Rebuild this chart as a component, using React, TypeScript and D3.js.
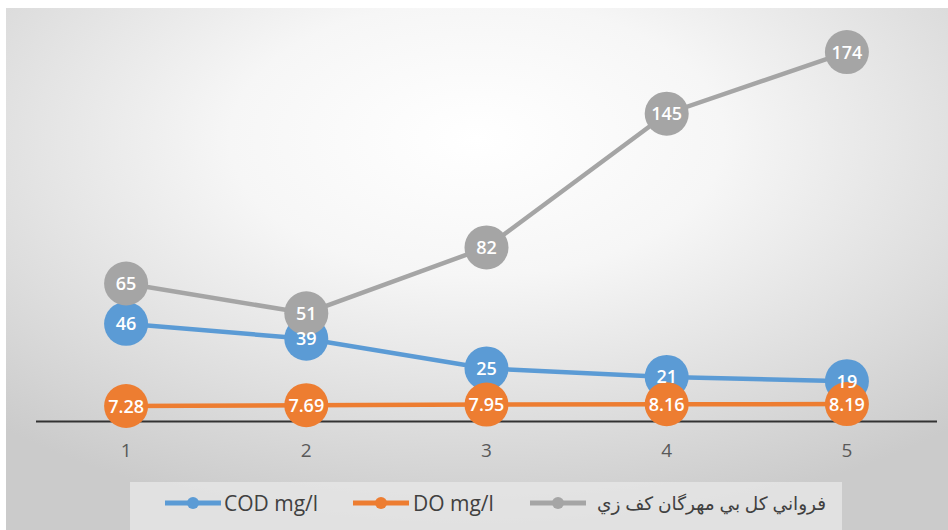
import React from 'react';
import * as d3 from 'd3';

const CATEGORIES = ['1', '2', '3', '4', '5'];
const COD = [46, 39, 25, 21, 19];
const DO = [7.28, 7.69, 7.95, 8.16, 8.19];
const BENTHOS = [65, 51, 82, 145, 174];

const SERIES = [
  { name: 'COD mg/l', values: COD, color: '#5B9BD5' },
  { name: 'DO mg/l', values: DO, color: '#ED7D31' },
  { name: 'فرواني کل بي مهرگان کف زي', values: BENTHOS, color: '#A5A5A5' },
];

const W = 948;
const H = 530;

export default function App() {
  const x = d3.scaleBand<string>().domain(CATEGORIES).range([36, 937]);
  const cx = (c: string) => (x(c) ?? 0) + x.bandwidth() / 2;
  const y = d3.scaleLinear().domain([0, 200]).range([421.5, 421.5 - 200 * 2.123]);

  const line = d3
    .line<number>()
    .x((_, i) => cx(CATEGORIES[i]))
    .y(d => y(d));

  const font = '"Open Sans", "DejaVu Sans", sans-serif';

  // legend layout: line start, text start, font size
  const legend = [
    { lx: 165, tx: 224, fs: 21 },
    { lx: 353, tx: 413, fs: 21 },
    { lx: 530, tx: 597, fs: 18.5 },
  ];
  const legY = 503;

  return (
    <svg
      width={W}
      height={H}
      style={{ position: 'absolute', left: 0, top: 0, display: 'block' }}
    >
      <defs>
        <radialGradient id="bg" cx="50%" cy="25%" r="75%">
          <stop offset="0%" stopColor="#ffffff" />
          <stop offset="35%" stopColor="#f6f6f6" />
          <stop offset="100%" stopColor="#cbcbcb" />
        </radialGradient>
      </defs>
      <rect x={0} y={0} width={W} height={H} fill="#ffffff" />
      <rect x={6} y={8} width={W - 6} height={H - 8} fill="url(#bg)" />

      {/* axis */}
      <line x1={36} x2={937} y1={y(0)} y2={y(0)} stroke="#333" strokeWidth={2} />
      {CATEGORIES.map(c => (
        <text
          key={c}
          x={cx(c)}
          y={450}
          dy="0.35em"
          textAnchor="middle"
          fontFamily={font}
          fontSize={19}
          fill="#595959"
        >
          {c}
        </text>
      ))}

      {/* lines + markers */}
      {SERIES.map(s => (
        <g key={s.name}>
          <path d={line(s.values) ?? ''} fill="none" stroke={s.color} strokeWidth={4.5} />
          {s.values.map((v, i) => (
            <circle key={i} cx={cx(CATEGORIES[i])} cy={y(v)} r={22} fill={s.color} />
          ))}
        </g>
      ))}

      {/* data labels */}
      {SERIES.map(s => (
        <g key={s.name + '-lbl'}>
          {s.values.map((v, i) => (
            <text
              key={i}
              x={cx(CATEGORIES[i])}
              y={y(v)}
              dy="0.36em"
              textAnchor="middle"
              fontFamily={font}
              fontSize={18}
              fontWeight={600}
              fill="#ffffff"
            >
              {v}
            </text>
          ))}
        </g>
      ))}

      {/* legend */}
      <rect x={130} y={482} width={712} height={48} fill="#e8e8e8" fillOpacity={0.75} />
      {SERIES.map((s, i) => (
        <g key={s.name + '-leg'}>
          <line
            x1={legend[i].lx}
            x2={legend[i].lx + 56}
            y1={legY}
            y2={legY}
            stroke={s.color}
            strokeWidth={5}
          />
          <circle cx={legend[i].lx + 28} cy={legY} r={6} fill={s.color} />
          <text
            x={legend[i].tx}
            y={legY}
            dy="0.36em"
            fontFamily={font}
            fontSize={legend[i].fs}
            fill="#404040"
            direction={i === 2 ? 'rtl' : 'ltr'}
            textAnchor={i === 2 ? 'end' : 'start'}
          >
            {s.name}
          </text>
        </g>
      ))}
    </svg>
  );
}
